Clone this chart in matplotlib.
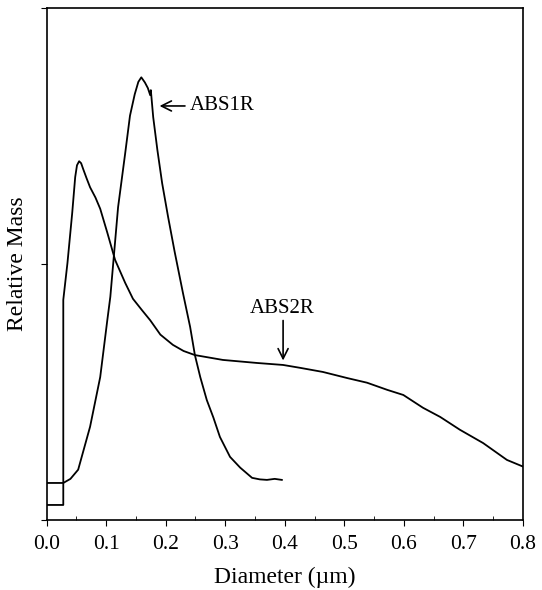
import matplotlib
matplotlib.use("Agg")
import matplotlib.pyplot as plt
from matplotlib.ticker import MultipleLocator

# Curves (diameter in um, relative mass scaled 0..1)
abs1r_x = [0.0, 0.028, 0.040, 0.053, 0.073, 0.090, 0.102, 0.107, 0.120, 0.132, 0.140,
           0.148, 0.154, 0.159, 0.165, 0.170, 0.174, 0.175, 0.179, 0.186, 0.194, 0.204,
           0.215, 0.229, 0.241, 0.249, 0.258, 0.269, 0.280, 0.291, 0.308, 0.325, 0.345,
           0.358, 0.370, 0.383, 0.395]
abs1r_y = [0.072, 0.072, 0.080, 0.098, 0.182, 0.279, 0.391, 0.436, 0.611, 0.717, 0.790,
           0.832, 0.856, 0.865, 0.855, 0.844, 0.830, 0.840, 0.787, 0.723, 0.658, 0.592,
           0.524, 0.443, 0.377, 0.322, 0.279, 0.234, 0.200, 0.162, 0.123, 0.102, 0.082,
           0.079, 0.078, 0.080, 0.078]

abs2r_x = [0.0, 0.028, 0.028, 0.035, 0.043, 0.048, 0.051, 0.0546, 0.058, 0.0613, 0.067,
           0.073, 0.082, 0.090, 0.102, 0.115, 0.132, 0.145, 0.160, 0.174, 0.191, 0.212,
           0.230, 0.249, 0.296, 0.353, 0.397, 0.426, 0.464, 0.505, 0.538, 0.572, 0.599,
           0.632, 0.661, 0.694, 0.733, 0.773, 0.80]
abs2r_y = [0.029, 0.029, 0.430, 0.502, 0.600, 0.670, 0.693, 0.701, 0.697, 0.686, 0.668,
           0.650, 0.630, 0.608, 0.561, 0.508, 0.463, 0.432, 0.410, 0.390, 0.362, 0.342,
           0.330, 0.322, 0.3125, 0.3066, 0.3027, 0.297, 0.289, 0.277, 0.268, 0.254, 0.244,
           0.219, 0.201, 0.176, 0.150, 0.117, 0.104]

x_ticks = [0.0, 0.1, 0.2, 0.3, 0.4, 0.5, 0.6, 0.7, 0.8]
x_tick_labels = ["0.0", "0.1", "0.2", "0.3", "0.4", "0.5", "0.6", "0.7", "0.8"]

plt.rcParams["font.family"] = ["Liberation Serif", "DejaVu Serif"]

fig = plt.figure(figsize=(5.42, 5.90), dpi=100)
ax = fig.add_axes([0.086, 0.119, 0.879, 0.867])

ax.plot(abs1r_x, abs1r_y, color="black", lw=1.3)
ax.plot(abs2r_x, abs2r_y, color="black", lw=1.3)

ax.set_xlim(0, 0.8)
ax.set_ylim(0, 1.0)

ax.set_xticks(x_ticks)
ax.set_xticklabels(x_tick_labels, fontsize=15.5)
ax.xaxis.set_minor_locator(MultipleLocator(0.05))
ax.tick_params(axis="x", which="major", direction="out", length=4, pad=7)
ax.tick_params(axis="x", which="minor", direction="in", length=3)
ax.set_yticks([0.0, 0.5, 1.0])
ax.set_yticklabels([])
ax.tick_params(axis="y", which="major", direction="out", length=4)

for sp in ax.spines.values():
    sp.set_linewidth(1.2)

ax.set_xlabel("Diameter (\u00b5m)", fontsize=17, labelpad=9)
ax.set_ylabel("Relative Mass", fontsize=17, labelpad=6)

# labels with arrows
ax.annotate("", xy=(0.185, 0.809), xytext=(0.237, 0.809),
            arrowprops=dict(arrowstyle="->", color="black", lw=1.2, mutation_scale=18))
ax.text(0.24, 0.809, "ABS1R", fontsize=15, va="center", ha="left")

ax.annotate("", xy=(0.3971, 0.306), xytext=(0.3971, 0.395),
            arrowprops=dict(arrowstyle="->", color="black", lw=1.2, mutation_scale=18))
ax.text(0.341, 0.414, "ABS2R", fontsize=15, va="center", ha="left")

fig.savefig("out.png", dpi=100)
